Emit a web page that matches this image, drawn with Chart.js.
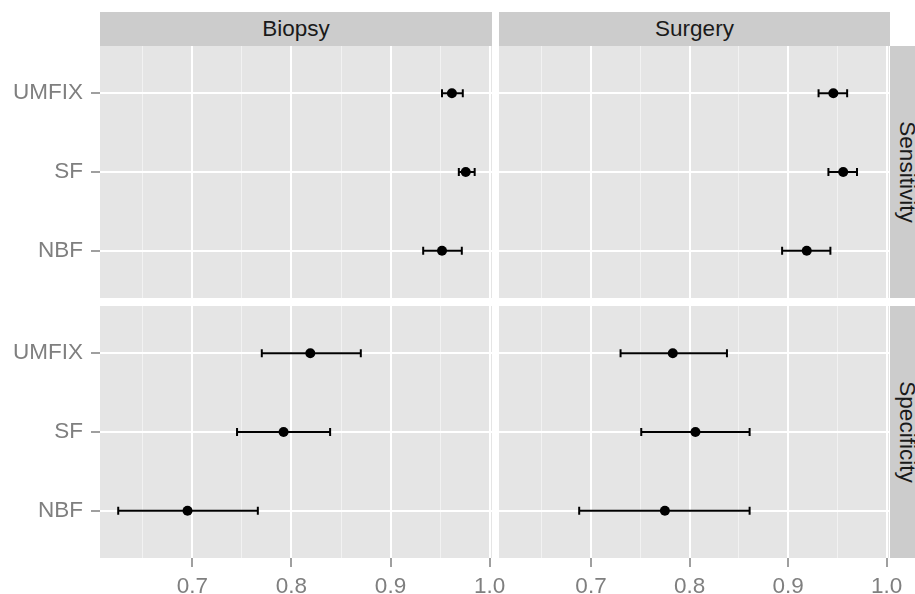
<!DOCTYPE html>
<html>
<head>
<meta charset="utf-8">
<script src="https://cdn.jsdelivr.net/npm/chart.js@4.4.1/dist/chart.umd.min.js"></script>
<style>
  html, body { margin: 0; padding: 0; background: #fff; }
  body { width: 915px; height: 594px; position: relative; overflow: hidden; font-family: "Liberation Sans", Arial, sans-serif; }
  canvas { position: absolute; }
  .strip { position: absolute; background: #CCCCCC; color: #1A1A1A; font-size: 22.5px; display: flex; align-items: center; justify-content: center; }
  .strip.row span { transform: rotate(90deg); white-space: nowrap; }
</style>
</head>
<body>
<div class="strip" style="left:100px;top:12px;width:392px;height:34px">Biopsy</div>
<div class="strip" style="left:499px;top:12px;width:391px;height:34px">Surgery</div>
<div class="strip row" style="left:890px;top:46px;width:34px;height:252px"><span>Sensitivity</span></div>
<div class="strip row" style="left:890px;top:306px;width:34px;height:252px"><span>Specificity</span></div>

<canvas id="biopsySens" width="492" height="252" style="left:0;top:46px"></canvas>
<canvas id="surgerySens" width="390" height="252" style="left:499px;top:46px"></canvas>
<canvas id="biopsySpec" width="512" height="288" style="left:0;top:306px"></canvas>
<canvas id="surgerySpec" width="416" height="288" style="left:499px;top:306px"></canvas>

<script>
// fixatives, listed top to bottom as in the plot
const fixatives = ['UMFIX', 'SF', 'NBF'];

const biopsySensitivity = [0.962, 0.976, 0.952];
const biopsySensitivityLow = [0.952, 0.969, 0.933];
const biopsySensitivityHigh = [0.973, 0.985, 0.972];

const surgerySensitivity = [0.946, 0.956, 0.919];
const surgerySensitivityLow = [0.931, 0.941, 0.894];
const surgerySensitivityHigh = [0.960, 0.970, 0.943];

const biopsySpecificity = [0.819, 0.792, 0.695];
const biopsySpecificityLow = [0.770, 0.745, 0.625];
const biopsySpecificityHigh = [0.870, 0.839, 0.766];

const surgerySpecificity = [0.783, 0.806, 0.775];
const surgerySpecificityLow = [0.730, 0.751, 0.688];
const surgerySpecificityHigh = [0.838, 0.861, 0.861];

const xTicks = [0.65, 0.7, 0.75, 0.8, 0.85, 0.9, 0.95, 1.0];

const FONT = '"Liberation Sans", Arial, sans-serif';
const GREY = '#7F7F7F';

// UMFIX on top -> highest y value
const yPos = i => fixatives.length - i;
const isMajor = v => Math.abs(v * 10 - Math.round(v * 10)) < 1e-6;

const panelBackground = {
  id: 'panelBackground',
  beforeDraw(chart) {
    const a = chart.chartArea;
    const ctx = chart.ctx;
    ctx.save();
    ctx.fillStyle = '#E5E5E5';
    ctx.fillRect(a.left, a.top, a.right - a.left, a.bottom - a.top);
    ctx.restore();
  }
};

function buildDatasets(est, lo, hi) {
  const sets = [{
    data: est.map((v, i) => ({ x: v, y: yPos(i) })),
    showLine: false,
    pointRadius: 5,
    pointBackgroundColor: '#000',
    pointBorderColor: '#000',
    pointBorderWidth: 0
  }];
  lo.forEach((l, i) => {
    sets.push({
      data: [{ x: l, y: yPos(i) }, { x: hi[i], y: yPos(i) }],
      showLine: true,
      borderColor: '#000',
      borderWidth: 2,
      pointStyle: 'line',
      pointRotation: 90,
      pointRadius: 4,
      pointBorderWidth: 2,
      pointBorderColor: '#000'
    });
  });
  return sets;
}

function makePanel(id, est, lo, hi, showY, showX, padRight) {
  new Chart(document.getElementById(id), {
    type: 'scatter',
    data: { datasets: buildDatasets(est, lo, hi) },
    plugins: [panelBackground],
    options: {
      responsive: false,
      animation: false,
      layout: { autoPadding: false, padding: { left: 0, top: 0, bottom: 0, right: padRight } },
      plugins: { legend: { display: false }, tooltip: { enabled: false } },
      scales: {
        x: {
          type: 'linear',
          min: 0.6066,
          max: 1.0025,
          afterBuildTicks: s => { s.ticks = xTicks.map(v => ({ value: v })); },
          afterFit: s => {
            s.height = showX ? 36 : 0;
            s.paddingLeft = 0;
            s.paddingRight = 0;
          },
          border: { display: false },
          grid: {
            color: c => isMajor(c.tick.value) ? '#FFFFFF' : '#F2F2F2',
            lineWidth: c => isMajor(c.tick.value) ? 2 : 1,
            drawTicks: showX,
            tickLength: 9,
            tickWidth: 1.5,
            tickColor: c => isMajor(c.tick.value) ? GREY : 'rgba(0,0,0,0)'
          },
          ticks: {
            display: showX,
            autoSkip: false,
            maxRotation: 0,
            padding: 6,
            color: GREY,
            font: { family: FONT, size: 22.5 },
            callback: v => isMajor(v) ? v.toFixed(1) : ''
          }
        },
        y: {
          type: 'linear',
          min: 0.4,
          max: 3.6,
          afterBuildTicks: s => { s.ticks = fixatives.map((f, i) => ({ value: yPos(i) })); },
          afterFit: s => {
            s.width = showY ? 100 : 0;
            s.paddingTop = 0;
            s.paddingBottom = 0;
          },
          border: { display: false },
          grid: {
            color: '#FFFFFF',
            lineWidth: 2,
            drawTicks: showY,
            tickLength: 9,
            tickWidth: 1.5,
            tickColor: GREY
          },
          ticks: {
            display: showY,
            padding: 8,
            color: GREY,
            font: { family: FONT, size: 22.5 },
            callback: v => fixatives[fixatives.length - v]
          }
        }
      }
    }
  });
}

makePanel('biopsySens', biopsySensitivity, biopsySensitivityLow, biopsySensitivityHigh, true, false, 0);
makePanel('surgerySens', surgerySensitivity, surgerySensitivityLow, surgerySensitivityHigh, false, false, 0);
makePanel('biopsySpec', biopsySpecificity, biopsySpecificityLow, biopsySpecificityHigh, true, true, 20);
makePanel('surgerySpec', surgerySpecificity, surgerySpecificityLow, surgerySpecificityHigh, false, true, 26);
</script>
</body>
</html>
